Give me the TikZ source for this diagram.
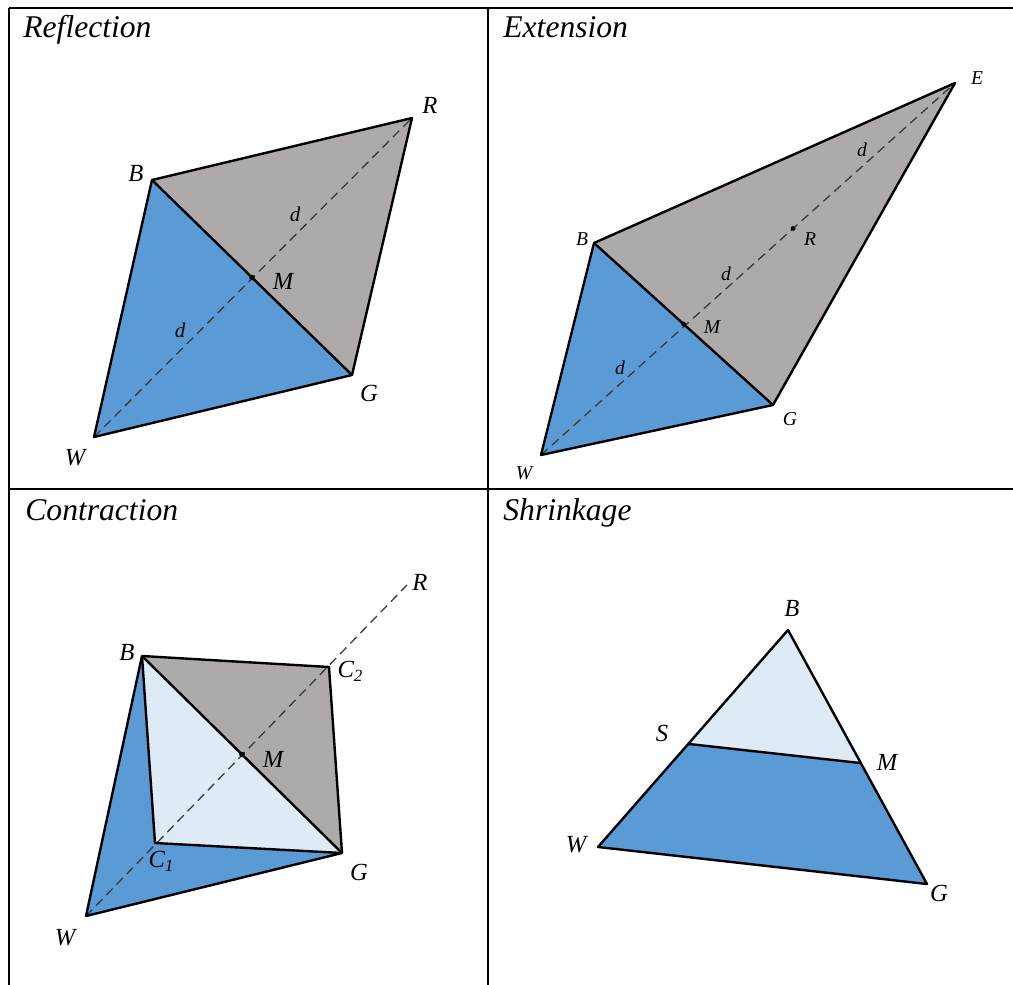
\documentclass[tikz,border=0pt]{standalone}
\usepackage{fontspec}
\setmainfont{Liberation Serif}
\usetikzlibrary{calc}
\definecolor{triblue}{HTML}{5B9BD5}
\definecolor{trigray}{HTML}{AEAAAA}
\definecolor{trilight}{HTML}{DEEBF7}
\definecolor{dashgray}{HTML}{3A3A3A}
\begin{document}
\begin{tikzpicture}[x=0.5pt,y=-0.5pt,
  edge/.style={draw=black,line width=1.2pt,line join=round},
  dashline/.style={draw=dashgray,line width=0.65pt,dash pattern=on 4.5pt off 2.8pt},
  rule/.style={draw=black,line width=1pt},
  ttl/.style={anchor=base west,inner sep=0pt,font=\fontsize{15.8}{18}\selectfont\itshape},
  lbl/.style={inner sep=0pt,font=\fontsize{12.3}{14}\selectfont\itshape},
  slbl/.style={inner sep=0pt,font=\fontsize{9.8}{11}\selectfont\itshape},
  dlbl/.style={inner sep=0pt,font=\fontsize{10.5}{12}\selectfont\itshape},
  ptdot/.style={fill=black,circle,inner sep=0pt,minimum size=2.8pt}]
\useasboundingbox (0,0) rectangle (1013,985);
% table rules
\coordinate (tTL) at (9,8); \coordinate (tTR) at (1013,8);
\coordinate (tML) at (9,489); \coordinate (tMR) at (1013,489);
\coordinate (tBL) at (9,985); \coordinate (tCT) at (488,8); \coordinate (tCB) at (488,985);
\draw[rule] (tTL) -- (tTR);
\draw[rule] (tML) -- (tMR);
\draw[rule] (tTL) -- (tBL);
\draw[rule] (tCT) -- (tCB);
% titles
\node[ttl] (t1) at (23,38) {Reflection};
\node[ttl] (t2) at (503,38) {Extension};
\node[ttl] (t3) at (25,520) {Contraction};
\node[ttl] (t4) at (503,520) {Shrinkage};

% ---------- Reflection ----------
\coordinate (rB) at (152,180);
\coordinate (rR) at (412,118);
\coordinate (rG) at (352,375);
\coordinate (rW) at (94,437);
\coordinate (rM) at ($(rB)!0.5!(rG)$);
\fill[triblue] (rW) -- (rB) -- (rG) -- cycle;
\fill[trigray] (rB) -- (rR) -- (rG) -- cycle;
\draw[dashline] (rW) -- (rR);
\draw[edge] (rW) -- (rB) -- (rR) -- (rG) -- cycle;
\draw[edge] (rB) -- (rG);
\node[ptdot] (rMd) at (rM) {};
\node[lbl] (rBl) at (136,173) {B};
\node[lbl] (rRl) at (430,105) {R};
\node[lbl] (rMl) at (283,281) {M};
\node[lbl] (rGl) at (369,393) {G};
\node[lbl] (rWl) at (75,458) {W};
\node[dlbl] (rd1) at (295,214) {d};
\node[dlbl] (rd2) at (180,330) {d};

% ---------- Extension ----------
\coordinate (eB) at (594,243);
\coordinate (eE) at (955,83);
\coordinate (eG) at (773,405);
\coordinate (eW) at (541,455);
\coordinate (eM) at ($(eB)!0.5!(eG)$);
\coordinate (eR) at ($(eW)!0.609!(eE)$);
\fill[triblue] (eW) -- (eB) -- (eG) -- cycle;
\fill[trigray] (eB) -- (eE) -- (eG) -- cycle;
\draw[dashline] (eW) -- (eE);
\draw[edge] (eW) -- (eB) -- (eE) -- (eG) -- cycle;
\draw[edge] (eB) -- (eG);
\node[ptdot,minimum size=2.4pt] (eMd) at (eM) {};
\node[ptdot,minimum size=2.4pt] (eRd) at (eR) {};
\node[slbl] (eEl) at (977,78) {E};
\node[slbl] (eBl) at (582,239) {B};
\node[slbl] (eMl) at (712,327) {M};
\node[slbl] (eRl) at (810,239) {R};
\node[slbl] (eGl) at (790,419) {G};
\node[slbl] (eWl) at (524,473) {W};
\node[slbl] (ed1) at (862,150) {d};
\node[slbl] (ed2) at (726,274) {d};
\node[slbl] (ed3) at (620,368) {d};

% ---------- Contraction ----------
\coordinate (cB) at (142,656);
\coordinate (cC2) at (329,667);
\coordinate (cG) at (342,853);
\coordinate (cC1) at (155,843);
\coordinate (cW) at (86,916);
\coordinate (cR) at (407,585);
\coordinate (cM) at ($(cB)!0.5!(cG)$);
\fill[triblue] (cW) -- (cB) -- (cG) -- cycle;
\fill[trilight] (cB) -- (cC1) -- (cG) -- cycle;
\fill[trigray] (cB) -- (cC2) -- (cG) -- cycle;
\draw[dashline] (cW) -- (cR);
\draw[edge] (cW) -- (cB) -- (cC2) -- (cG) -- cycle;
\draw[edge] (cB) -- (cC1) -- (cG);
\draw[edge] (cB) -- (cG);
\node[ptdot] (cMd) at (cM) {};
\node[lbl] (cBl) at (127,652) {B};
\node[lbl] (cC2l) at (350,671) {C\raisebox{-0.35ex}{\fontsize{8.5}{10}\selectfont 2}};
\node[lbl] (cRl) at (420,582) {R};
\node[lbl] (cMl) at (273,759) {M};
\node[lbl] (cC1l) at (161,861) {C\raisebox{-0.35ex}{\fontsize{8.5}{10}\selectfont 1}};
\node[lbl] (cGl) at (359,872) {G};
\node[lbl] (cWl) at (65,938) {W};

% ---------- Shrinkage ----------
\coordinate (sB) at (788,630);
\coordinate (sW) at (598,847);
\coordinate (sG) at (927,884);
\coordinate (sS) at ($(sB)!0.525!(sW)$);
\coordinate (sM) at ($(sB)!0.524!(sG)$);
\fill[trilight] (sB) -- (sS) -- (sM) -- cycle;
\fill[triblue] (sS) -- (sW) -- (sG) -- (sM) -- cycle;
\draw[edge] (sB) -- (sW) -- (sG) -- cycle;
\draw[edge] (sS) -- (sM);
\node[lbl] (sBl) at (792,608) {B};
\node[lbl] (sSl) at (662,733) {S};
\node[lbl] (sMl) at (887,762) {M};
\node[lbl] (sWl) at (576,845) {W};
\node[lbl] (sGl) at (939,893) {G};
\end{tikzpicture}
\end{document}
